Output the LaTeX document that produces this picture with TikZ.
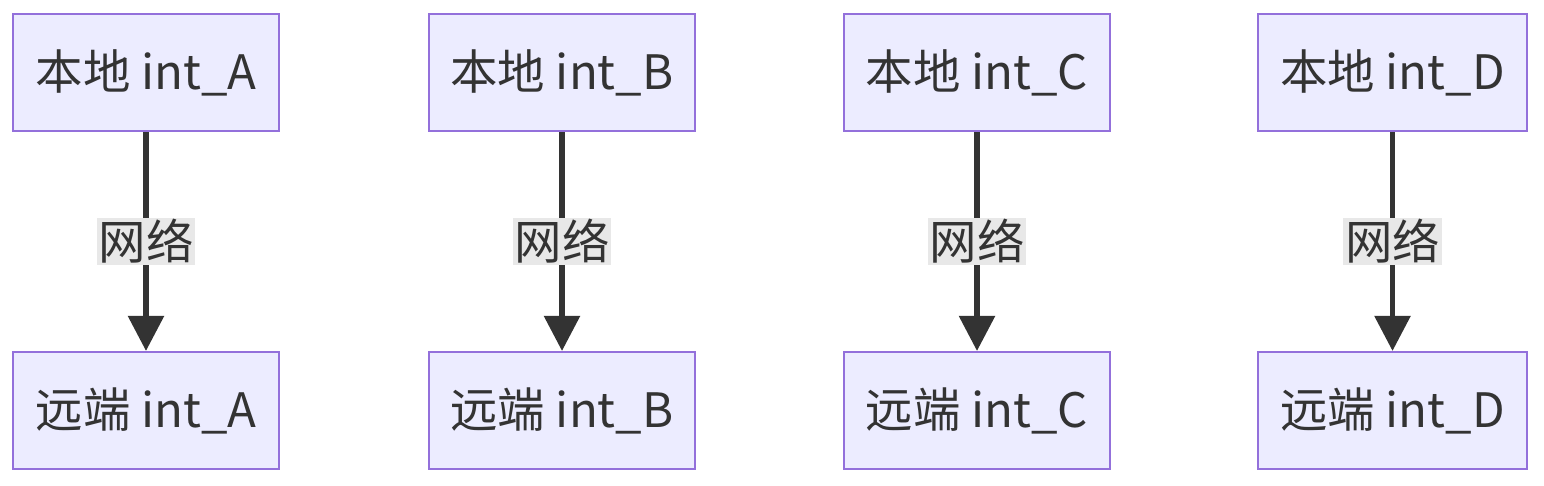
\documentclass[tikz,border=0pt]{standalone}
\usepackage{fontspec}
\newfontfamily\cjk{Noto Sans CJK SC}
\usetikzlibrary{arrows.meta}
\definecolor{boxfill}{HTML}{ECECFF}
\definecolor{boxdraw}{HTML}{9370DB}
\definecolor{ink}{HTML}{333333}
\definecolor{lblfill}{HTML}{E8E8E8}
\begin{document}
\begin{tikzpicture}[
        x=0.02cm, y=-0.02cm,
        % Kiểu dáng chung
        box/.style={
            rectangle, draw=boxdraw, fill=boxfill, line width=1.2pt,
            minimum width=5.32cm, minimum height=2.34cm,
            text=ink, font=\cjk\fontsize{27}{32}\selectfont
        },
        lbl/.style={
            rectangle, fill=lblfill, inner sep=1pt,
            text=ink, font=\cjk\fontsize{27}{32}\selectfont
        },
        arr/.style={-{Triangle[length=20pt,width=20pt]}, line width=3.2pt, draw=ink}
    ]
        \useasboundingbox (0,0) rectangle (1544,486);

        % Hàng trên
        \node[box] (locA) at (146, 72.5) {本地 int\_A};
        \node[box] (locB) at (562, 72.5) {本地 int\_B};
        \node[box] (locC) at (977, 72.5) {本地 int\_C};
        \node[box, minimum width=5.38cm] (locD) at (1392.5, 72.5) {本地 int\_D};

        % Hàng dưới
        \node[box] (remA) at (146, 410.5) {远端 int\_A};
        \node[box] (remB) at (562, 410.5) {远端 int\_B};
        \node[box] (remC) at (977, 410.5) {远端 int\_C};
        \node[box, minimum width=5.38cm] (remD) at (1392.5, 410.5) {远端 int\_D};

        % Mũi tên kết nối
        \draw[arr] (locA) -- node[lbl] {网络} (remA);
        \draw[arr] (locB) -- node[lbl] {网络} (remB);
        \draw[arr] (locC) -- node[lbl] {网络} (remC);
        \draw[arr] (locD) -- node[lbl] {网络} (remD);

    \end{tikzpicture}
\end{document}
